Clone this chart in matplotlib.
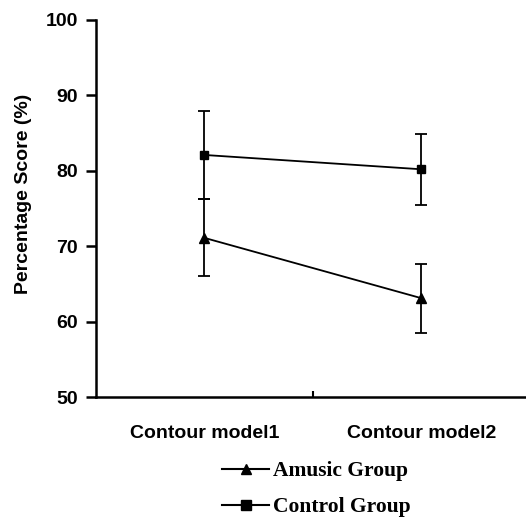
import matplotlib
matplotlib.use("Agg")
import matplotlib.pyplot as plt
from matplotlib.lines import Line2D

# data
conditions = ["Contour model1", "Contour model2"]
amusic_mean = [71.1, 63.1]
amusic_err = [5.1, 4.6]
control_mean = [82.1, 80.2]
control_err = [5.8, 4.7]
y_ticks = [50, 60, 70, 80, 90, 100]

sans = "Liberation Sans"
serif = "Liberation Serif"

fig = plt.figure(figsize=(5.26, 5.18), dpi=100)
ax = fig.add_axes([96 / 526, 121 / 518, 434 / 526, 377 / 518])

xpos = [0.5, 1.5]
ax.errorbar(xpos, amusic_mean, yerr=amusic_err, color="black", marker="^",
            markersize=6.5, linewidth=1.3, elinewidth=1.3, capsize=4,
            capthick=1.3)
ax.errorbar(xpos, control_mean, yerr=control_err, color="black", marker="s",
            markersize=6, linewidth=1.3, elinewidth=1.3, capsize=4,
            capthick=1.3)

ax.set_xlim(0, 2)
ax.set_ylim(50, 100)
ax.set_yticks(y_ticks)
ax.set_yticklabels([str(t) for t in y_ticks], fontfamily=sans,
                   fontweight="bold", fontsize=14)
ax.tick_params(axis="y", direction="out", length=7, width=1.8, pad=6)

# category labels without tick marks, a single inward tick between them
ax.set_xticks([1])
ax.set_xticklabels([""])
ax.tick_params(axis="x", which="major", direction="in", length=4, width=1.5)
ax.set_xticks(xpos, minor=True)
ax.set_xticklabels(conditions, minor=True, fontfamily=sans,
                   fontweight="bold", fontsize=14)
ax.tick_params(axis="x", which="minor", length=0, pad=20)

ax.set_ylabel("Percentage Score (%)", fontfamily=sans, fontweight="bold",
              fontsize=14)
ax.yaxis.set_label_coords(-0.147, 0.538)

for side in ["top", "right"]:
    ax.spines[side].set_visible(False)
for side in ["left", "bottom"]:
    ax.spines[side].set_linewidth(1.8)

handles = [
    Line2D([], [], color="black", marker="^", markersize=7, linewidth=1.5),
    Line2D([], [], color="black", marker="s", markersize=7, linewidth=1.5),
]
fig.legend(handles, ["Amusic Group", "Control Group"], loc="upper left",
           bbox_to_anchor=(222 / 526, 1 - 461 / 518), frameon=False,
           prop={"family": serif, "weight": "bold", "size": 15.5},
           handlelength=2.2, handletextpad=0.15, labelspacing=0.75,
           borderpad=0, borderaxespad=0)

fig.savefig("out.png", dpi=100, facecolor="white")
